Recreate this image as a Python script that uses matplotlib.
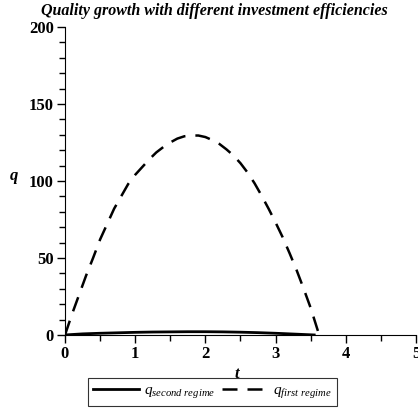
import matplotlib
matplotlib.use("Agg")
import matplotlib.pyplot as plt
from matplotlib.ticker import MultipleLocator

plt.rcParams['font.family'] = 'Liberation Serif'
plt.rcParams['mathtext.fontset'] = 'custom'
plt.rcParams['mathtext.rm'] = 'Liberation Serif'
plt.rcParams['mathtext.it'] = 'Liberation Serif:italic'

# q in the first regime (dashed)
t_first = [0, 0.1, 0.2, 0.3, 0.4, 0.5, 0.6, 0.7, 0.8, 0.9, 1.0, 1.1, 1.2, 1.3,
           1.4, 1.5, 1.6, 1.7, 1.8, 1.9, 2.0, 2.1, 2.2, 2.3, 2.4, 2.5, 2.6, 2.7,
           2.8, 2.9, 3.0, 3.1, 3.2, 3.3, 3.4, 3.5, 3.6, 3.62]
q_first = [0, 13.5, 26, 38.5, 50, 62, 72, 82, 90, 98, 104, 109, 114, 118.5,
           122, 125, 127.5, 129, 129.5, 129.5, 128.5, 126.5, 124, 120.5, 116.5,
           111.5, 105.5, 98.5, 90.5, 82, 73, 63.5, 53, 42, 30, 17.5, 3, 0]

# q in the second regime (solid), tiny values
t_second = [0, 0.25, 0.5, 0.75, 1.0, 1.25, 1.5, 1.75, 2.0, 2.25, 2.5, 2.75,
            3.0, 3.25, 3.5, 3.55]
q_second = [0, 0.7, 1.1, 1.4, 1.7, 1.9, 2.0, 2.1, 2.1, 2.0, 1.8, 1.5,
            1.1, 0.6, 0.1, 0]

fig = plt.figure(figsize=(4.18, 4.12), dpi=100)
ax = fig.add_axes([0.1555, 0.187, 0.8397, 0.7476])

ax.plot(t_second, q_second, color='black', lw=2, label=r'$q_{second\ regime}$')
ax.plot(t_first, q_first, color='black', lw=1.8, dashes=(6, 4),
        label=r'$q_{first\ regime}$')

ax.set_xlim(0, 5)
ax.set_ylim(0, 200)
for s in ['top', 'right']:
    ax.spines[s].set_visible(False)
ax.xaxis.set_major_locator(MultipleLocator(1))
ax.xaxis.set_minor_locator(MultipleLocator(0.5))
ax.yaxis.set_major_locator(MultipleLocator(50))
ax.yaxis.set_minor_locator(MultipleLocator(10))
ax.tick_params(which='major', length=6, width=1, labelsize=12, pad=2)
ax.tick_params(which='minor', length=4, width=1)
for lab in ax.get_xticklabels() + ax.get_yticklabels():
    lab.set_fontweight('bold')

ax.set_xlabel('t', fontsize=12, fontweight='bold', style='italic')
ax.xaxis.set_label_coords(0.49, -0.1)
ax.set_ylabel('q', fontsize=12, fontweight='bold', style='italic', rotation=0)
ax.yaxis.set_label_coords(-0.145, 0.49)

fig.suptitle('Quality growth with different investment efficiencies',
             x=0.512, y=0.992, fontsize=11.5, fontweight='bold', style='italic')

leg = ax.legend(loc='upper center', bbox_to_anchor=(0.42, -0.14), ncol=2,
                frameon=True, fancybox=False, edgecolor='black', fontsize=11,
                handlelength=3.0, columnspacing=0.4, borderpad=0.35,
                handletextpad=0.35, borderaxespad=0)
leg.get_frame().set_linewidth(0.8)

fig.savefig('out.png', dpi=100)
